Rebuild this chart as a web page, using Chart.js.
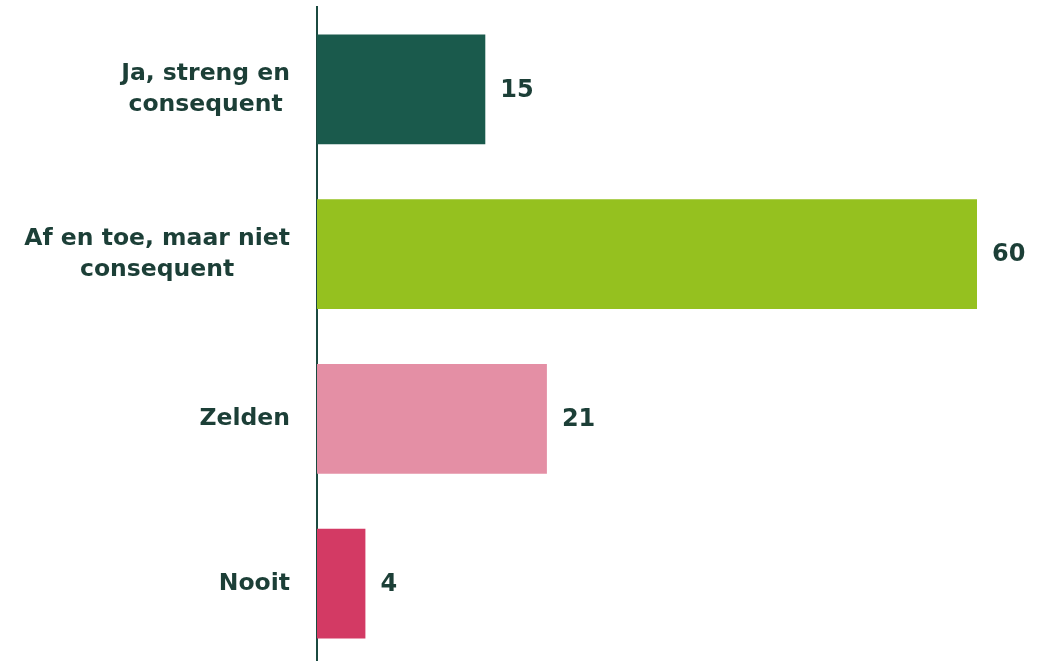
<!DOCTYPE html>
<html>
<head>
<meta charset="utf-8">
<script src="https://cdn.jsdelivr.net/npm/chart.js@4"></script>
<style>
html,body{margin:0;padding:0;background:#fff;overflow:hidden;}
#wrap{width:1050px;height:667px;}
</style>
</head>
<body>
<div id="wrap"><canvas id="c" width="1050" height="667"></canvas></div>
<script>
const categories = [["Ja, streng en", "consequent"], ["Af en toe, maar niet", "consequent"], ["Zelden"], ["Nooit"]];
const values = [15.3, 60, 20.9, 4.4];
const valueLabels = ["15", "60", "21", "4"];
const barColors = ["#1a5a4c", "#95c11f", "#e48fa5", "#d33a64"];

const TEXT = "#1c3f37";
const FONT_FAMILY = "'DejaVu Sans', sans-serif";

const labelPlugin = {
  id: 'customLabels',
  afterDraw(chart) {
    const ctx = chart.ctx;
    const yScale = chart.scales.y;
    const meta = chart.getDatasetMeta(0);
    ctx.save();
    ctx.fillStyle = TEXT;
    ctx.font = "bold 23.5px " + FONT_FAMILY;
    ctx.textBaseline = 'middle';
    ctx.textAlign = 'center';
    const rightEdge = 290;
    const lineH = 31;
    categories.forEach((lines, i) => {
      const yc = yScale.getPixelForTick(i);
      const w = Math.max(...lines.map(l => ctx.measureText(l).width));
      const cx = rightEdge - w / 2;
      const y0 = yc - (lines.length - 1) * lineH / 2;
      lines.forEach((l, j) => ctx.fillText(l, cx, y0 + j * lineH));
    });
    ctx.font = "bold 24px " + FONT_FAMILY;
    ctx.textAlign = 'left';
    meta.data.forEach((bar, i) => {
      ctx.fillText(valueLabels[i], bar.x + 15, bar.y + 1);
    });
    ctx.restore();
  }
};

new Chart(document.getElementById('c'), {
  type: 'bar',
  data: {
    labels: categories,
    datasets: [{
      data: values,
      backgroundColor: barColors,
      borderWidth: 0,
      barPercentage: 0.667,
      categoryPercentage: 1
    }]
  },
  options: {
    indexAxis: 'y',
    responsive: false,
    animation: false,
    devicePixelRatio: 1,
    layout: { padding: { left: 317, right: 73, top: 7, bottom: 1 } },
    plugins: { legend: { display: false }, tooltip: { enabled: false } },
    scales: {
      x: { display: false, min: 0, max: 60 },
      y: {
        display: true,
        grid: { display: false, drawTicks: false },
        border: { display: true, color: "#1b4a40", width: 2 },
        ticks: { display: false }
      }
    }
  },
  plugins: [labelPlugin]
});
</script>
</body>
</html>
